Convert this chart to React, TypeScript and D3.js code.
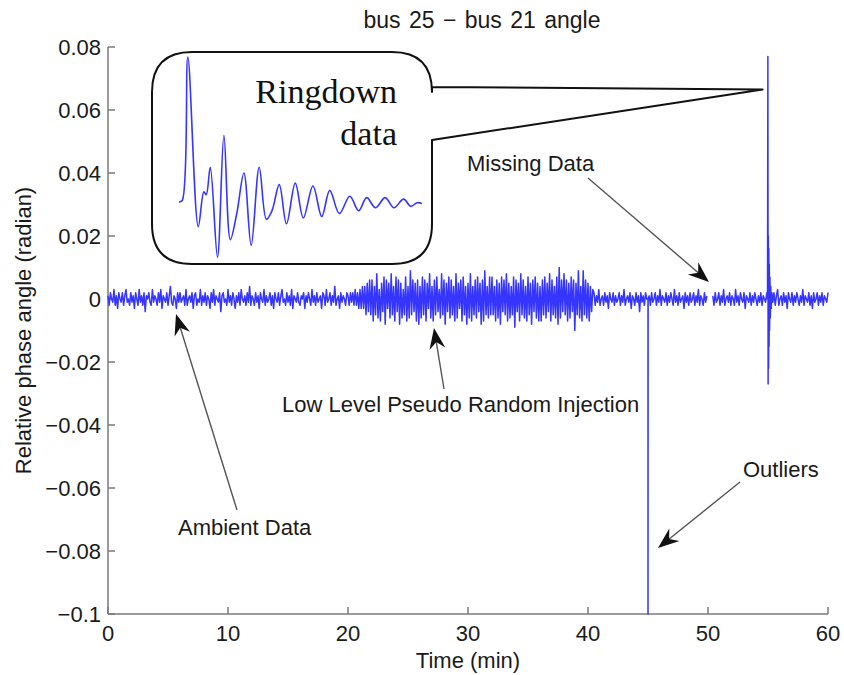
import * as d3 from 'd3'

// signal in milli-radians, sampled every 0.1 min
const MRAD = 0.001
const STEP = 0.1

const ambient1 = [
  1, -2, 2, 0, -1, 3, -2, 1, -3, 2, 0, -1, 2, -2, 1, 3, -1, 0, -2, 2,
  -1, 1, -3, 2, 0, -2, 3, -1, 1, -2, 2, -4, 1, 0, 2, -1, -2, 3, -1, 1,
  0, -2, 2, -1, 3, -3, 1, 0, -1, 2, -2, 1, 4, -1, -2, 1, 0, -3, 2, -1,
  2, -1, 0, 1, -2, 3, -2, 0, 1, -1, 2, -3, 1, 2, -2, 0, -1, 3, -2, 1,
  -1, 2, -2, 1, 0, -3, 2, -1, 3, -2, 1, 0, -1, 2, -4, 1, 2, -1, 0, -2,
  3, -1, 1, -2, 2, 0, -3, 1, -1, 2, -2, 3, 0, -1, 1, -2, 2, -1, 4, -2,
  1, 0, -2, 2, -1, 1, -3, 2, 0, -1, 3, -2, 1, -1, 0, 2, -2, 1, -3, 2,
  0, -1, 2, -2, 1, 3, -1, 0, -2, 2, -1, 1, -2, 3, -3, 1, 0, -1, 2, -1,
  -2, 1, 0, 2, -3, 1, -1, 2, 0, -2, 3, -1, 1, -2, 2, -1, 0, 1, -3, 2,
  1, -2, 3, -1, 0, 2, -2, 1, -1, 4, -2, 0, 1, -3, 2, -1, 1, 0, -2, 2,
]

const injection = [
  1, -2, 2, -1, 2, -2, 3, -2, 2, -3, 3, -3, 4, -3, 4, -5, 5, -4, 6, -5,
  6, -7, 4, -5, 8, -6, 3, -7, 5, -4, 7, -8, 6, -3, 5, -6, 8, -5, 4, -7,
  7, -4, 6, -8, 5, -6, 3, -5, 7, -7, 4, -6, 9, -5, 6, -4, 5, -7, 6, -8,
  4, -6, 7, -5, 6, -7, 5, -3, 8, -6, 4, -7, 6, -5, 7, -4, 3, -6, 8, -5,
  6, -8, 5, -4, 7, -6, 6, -5, 4, -7, 8, -6, 5, -3, 6, -7, 7, -5, 4, -8,
  5, -6, 8, -7, 4, -5, 6, -6, 7, -4, 5, -8, 6, -7, 9, -5, 4, -6, 7, -5,
  7, -5, 4, -7, 6, -6, 5, -8, 7, -4, 6, -5, 8, -7, 5, -6, 4, -5, 7, -9,
  6, -4, 5, -7, 8, -5, 6, -6, 4, -7, 7, -5, 5, -8, 6, -4, 7, -6, 5, -7,
  4, -7, 6, -5, 7, -6, 5, -4, 8, -7, 6, -5, 4, -6, 7, -8, 10, -6, 6, -4,
  8, -5, 6, -7, 5, -6, 7, -4, 6, -10, 5, -5, 9, -6, 4, -7, 9, -5, 6, -6,
  5, -7, 4, -4, 3,
]

const ambient2 = [
  2, -2, 1, -1, 3, -2, 0, 1, -2, 2, -1, 1, -3, 2, 0, -1, 2, -2, 1, -1,
  0, 2, -2, 1, -1, 3, -2, 0, 1, -1, 2, -3, 1, 0, -2, 2, -1, 1, -4, 2,
  -1, 1, -2, 2, 0, -1, 1, -2, 2, -1, 0, 2, -2, 1, -1, 3, -2, 1, 0, -1,
  2, -2, 1, -1, 2, 0, -2, 3, -1, 1, -2, 2, -1, 0, 1, -3, 2, -1, 1, -2,
  2, -1, 0, 2, -2, 1, -1, 3, -2, 1, 0, -2, 2, -1, 1,
]

// single bad sample at 45 min
const outlierTimes = [44.99, 45.0, 45.01]
const outlierValues = [0, -100, 0]

const ambient3a = [
  1, -2, 2, -1, 0, 2, -2, 1, -1, 3, -2, 0, 1, -1, 2, -2, 1, 0, -2, 3,
  -1, 1, -2, 2, 0, -1, 2, -3, 1, 0, -1, 2, -2, 1, -1, 2, 0, -2, 1, -1,
  2, -2, 1, 0, -1, 2,
]

// ringdown event at 55 min
const ringdownTimes = [54.96, 54.99, 55.01, 55.03, 55.05, 55.07, 55.09, 55.11, 55.13, 55.16, 55.19, 55.23, 55.27, 55.32]
const ringdownValues = [0, 77, -27, 20, -22, 16, -15, 11, -10, 7, -6, 4, -3, 2]

const ambient3b = [
  -1, 2, -2, 1, 3, -2, 0, 1, -2, 2, -1, 1, -3, 2, 0, -1, 2, -2, 1, -1,
  2, 0, -2, 1, -1, 3, -2, 1, 0, -1, 2, -2, 1, -3, 2, -1, 0, 2, -2, 1,
  -1, 2, -2, 1, 0, -1, 2,
]

// zoomed ringdown in the callout (seconds, relative amplitude)
const insetTimes = [0, 0.4, 1.1, 2.4, 3.1, 3.4, 3.9, 4.8, 5.6, 6.4, 7.2, 8.1, 9.0, 10.0, 10.9, 11.6, 12.5, 13.4, 14.5, 15.5, 16.7, 17.8, 18.8, 20.0, 21.3, 22.4, 23.4, 24.5, 25.7, 26.8, 28.0, 28.9, 29.7, 30.3]
const insetValues = [0, 0.01, 1.0, -0.17, 0.07, 0.05, 0.24, -0.38, 0.46, -0.26, -0.08, 0.2, -0.3, 0.24, -0.12, -0.06, 0.12, -0.15, 0.13, -0.11, 0.11, -0.1, 0.08, -0.08, 0.04, -0.06, 0.03, -0.04, 0.03, -0.04, 0.02, -0.03, -0.005, -0.01]

const xTicks = [0, 10, 20, 30, 40, 50, 60]
const yTicks = [0.08, 0.06, 0.04, 0.02, 0, -0.02, -0.04, -0.06, -0.08, -0.1]
const yTickLabels = ['0.08', '0.06', '0.04', '0.02', '0', '−0.02', '−0.04', '−0.06', '−0.08', '−0.1']

type Pt = { t: number; v: number }
const seg = (start: number, vals: number[]): Pt[] =>
  vals.map((v, i) => ({ t: start + i * STEP, v: v * MRAD }))
const pairs = (ts: number[], vs: number[]): Pt[] => ts.map((t, i) => ({ t, v: vs[i] * MRAD }))

const W = 844
const H = 675
const SANS = '"Liberation Sans", Arial, sans-serif'
const BLUE = '#3535ff'

function Arrow({ x1, y1, x2, y2 }: { x1: number; y1: number; x2: number; y2: number }) {
  const dx = x2 - x1
  const dy = y2 - y1
  const len = Math.hypot(dx, dy)
  const ux = dx / len
  const uy = dy / len
  const nx = -uy
  const ny = ux
  const L = 21
  const hw = 8
  const p = (a: number, b: number) => `${x2 - ux * a + nx * b},${y2 - uy * a + ny * b}`
  return (
    <g>
      <line x1={x1} y1={y1} x2={x2 - ux * 10} y2={y2 - uy * 10} stroke="#555" strokeWidth={1.4} />
      <polygon points={`${x2},${y2} ${p(L, hw)} ${p(L * 0.68, 0)} ${p(L, -hw)}`} fill="#111" />
    </g>
  )
}

export default function App() {
  const x = d3.scaleLinear().domain([0, 60]).range([108, 828])
  const y = d3.scaleLinear().domain([-0.1, 0.08]).range([614, 47])

  const seg1 = [
    ...seg(0, ambient1),
    ...seg(20, injection),
    ...seg(40.5, ambient2),
    ...pairs(outlierTimes, outlierValues),
  ].sort((a, b) => a.t - b.t)
  const seg2 = [
    ...seg(50.4, ambient3a),
    ...pairs(ringdownTimes, ringdownValues),
    ...seg(55.4, ambient3b),
  ]
  const line = d3.line<Pt>().x(d => x(d.t)).y(d => y(d.v))

  const ix = d3.scaleLinear().domain([0, 30.3]).range([179, 422])
  const iy = d3.scaleLinear().domain([0, 1]).range([202, 57])
  const insetLine = d3.line<number>()
    .x((_, i) => ix(insetTimes[i]))
    .y(d => iy(d))
    .curve(d3.curveCatmullRom.alpha(0.5))

  // callout box with a pointer to the ringdown spike
  const bx0 = 152, bx1 = 432, by0 = 52, by1 = 264, r = 40
  const tip = [x(54.55), y(0.0665)]
  const box = `M${bx0 + r},${by0} H${bx1 - r} Q${bx1},${by0} ${bx1},${by0 + r}
    V87 L${tip[0]},${tip[1]} L${bx1},140 V${by1 - r} Q${bx1},${by1} ${bx1 - r},${by1}
    H${bx0 + r} Q${bx0},${by1} ${bx0},${by1 - r} V${by0 + r} Q${bx0},${by0} ${bx0 + r},${by0} Z`

  const axisColor = '#7a7a7a'
  const textColor = '#1a1a1a'

  return (
    <div style={{ position: 'absolute', left: 0, top: 0 }}>
      <svg width={W} height={H} style={{ display: 'block', background: '#fff' }} fontFamily={SANS}>
        {/* axes */}
        <line x1={x(0)} x2={x(0)} y1={y(0.08)} y2={y(-0.1)} stroke={axisColor} strokeWidth={1.5} />
        <line x1={x(0)} x2={x(60)} y1={y(-0.1)} y2={y(-0.1)} stroke={axisColor} strokeWidth={1.5} />
        {yTicks.map((t, i) => (
          <g key={t}>
            <line x1={x(0)} x2={x(0) + 7} y1={y(t)} y2={y(t)} stroke={axisColor} strokeWidth={1.5} />
            <text x={x(0) - 7} y={y(t)} dy="0.36em" textAnchor="end" fontSize={22} fill={textColor}>
              {yTickLabels[i]}
            </text>
          </g>
        ))}
        {xTicks.map(t => (
          <g key={t}>
            <line x1={x(t)} x2={x(t)} y1={y(-0.1)} y2={y(-0.1) - 7} stroke={axisColor} strokeWidth={1.5} />
            <text x={x(t)} y={y(-0.1) + 27} textAnchor="middle" fontSize={22} fill={textColor}>{t}</text>
          </g>
        ))}
        <text x={482} y={28} textAnchor="middle" fontSize={23} wordSpacing={2} fill={textColor}>
          bus 25 − bus 21 angle
        </text>
        <text x={468} y={668} textAnchor="middle" fontSize={22} fill={textColor}>Time (min)</text>
        <text transform={`translate(31,${y(-0.01)}) rotate(-90)`} textAnchor="middle" fontSize={22} fill={textColor}>
          Relative phase angle (radian)
        </text>

        {/* signal */}
        <path d={line(seg1) ?? ''} fill="none" stroke={BLUE} strokeWidth={1.5} strokeLinejoin="round" />
        <path d={line(seg2) ?? ''} fill="none" stroke={BLUE} strokeWidth={1.5} strokeLinejoin="round" />

        {/* annotations */}
        <Arrow x1={237} y1={510} x2={176} y2={314} />
        <text x={178} y={535} fontSize={22} fill={textColor}>Ambient Data</text>
        <Arrow x1={444} y1={389} x2={434} y2={328} />
        <text x={282} y={412} fontSize={22} fill={textColor}>Low Level Pseudo Random Injection</text>
        <Arrow x1={588} y1={178} x2={709} y2={282} />
        <text x={467} y={171} fontSize={22} fill={textColor}>Missing Data</text>
        <Arrow x1={740} y1={482} x2={658} y2={548} />
        <text x={743} y={477} fontSize={22} fill={textColor}>Outliers</text>

        {/* callout */}
        <path d={box} fill="#fff" stroke="#111" strokeWidth={2} strokeLinejoin="round" />
        <path d={insetLine(insetValues) ?? ''} fill="none" stroke={BLUE} strokeWidth={1.6} />
        <g fontFamily='"Liberation Serif", "Times New Roman", serif' fontSize={34} fill="#111" textAnchor="end">
          <text x={397} y={103}>Ringdown</text>
          <text x={397} y={145}>data</text>
        </g>
      </svg>
    </div>
  )
}
